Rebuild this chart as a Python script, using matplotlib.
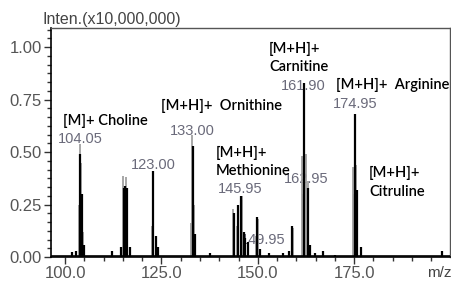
import matplotlib
matplotlib.use("Agg")
import matplotlib.pyplot as plt
from matplotlib.ticker import MultipleLocator, AutoMinorLocator

# spectrum (intensity in units of 1e7)
black_mz = [101.8, 102.9, 104.0, 104.5, 105.0, 112.1, 114.5, 115.2, 115.6, 116.0, 116.9,
            122.8, 123.6, 124.1, 133.1, 133.7, 137.6, 143.9, 144.9, 145.7, 146.3, 146.8,
            147.4, 149.9, 150.6, 153.0, 156.5, 158.0, 158.8, 162.1, 162.9, 163.6, 164.9,
            167.0, 170.0, 175.1, 175.7, 176.8, 197.8]
black_int = [0.025, 0.03, 0.49, 0.30, 0.06, 0.03, 0.05, 0.33, 0.34, 0.33, 0.05,
             0.41, 0.10, 0.05, 0.53, 0.11, 0.02, 0.21, 0.25, 0.29, 0.12, 0.09,
             0.07, 0.19, 0.04, 0.02, 0.02, 0.03, 0.15, 0.83, 0.33, 0.06, 0.02,
             0.03, 0.01, 0.68, 0.32, 0.05, 0.03]
gray_mz = [103.5, 103.8, 104.2, 104.7, 114.9, 115.4, 115.9, 122.6, 122.9, 132.7, 133.0,
           133.4, 143.6, 144.6, 145.8, 146.0, 149.6, 150.1, 159.0, 161.5, 161.8, 162.4,
           163.1, 174.6, 174.9, 175.4]
gray_int = [0.25, 0.54, 0.45, 0.12, 0.385, 0.30, 0.38, 0.15, 0.41, 0.16, 0.58,
            0.25, 0.23, 0.15, 0.29, 0.27, 0.10, 0.18, 0.14, 0.48, 0.30, 0.49,
            0.36, 0.43, 0.30, 0.44]

# peak value labels: text and centre position
peak_text = ["104.05", "123.00", "133.00", "145.95", "149.95", "161.90", "162.95", "174.95"]
peak_x = [103.9, 122.9, 133.0, 145.4, 151.4, 161.7, 162.6, 175.3]
peak_y = [0.56, 0.44, 0.60, 0.325, 0.08, 0.815, 0.37, 0.73]

# compound annotations: one entry per text line, left edge and centre height
comp_text = ["[M]+ Choline", "[M+H]+  Ornithine", "[M+H]+", "Methionine",
             "[M+H]+", "Carnitine", "[M+H]+  Arginine", "[M+H]+", "Citruline"]
comp_x = [99.5, 124.9, 139.0, 139.0, 152.9, 152.9, 170.3, 178.9, 178.9]
comp_y = [0.65, 0.72, 0.495, 0.41, 0.99, 0.905, 0.82, 0.40, 0.31]

fig = plt.figure(figsize=(4.52, 2.81), dpi=100)
ax = fig.add_axes([0.113, 0.085, 0.883, 0.815])

ax.vlines(gray_mz, 0, gray_int, color="#a0a0a0", linewidth=1.3, zorder=2)
ax.vlines(black_mz, 0, black_int, color="black", linewidth=1.6, zorder=3)
ax.axhline(0.005, color="black", linewidth=1.2, zorder=4)

for t, x, y in zip(peak_text, peak_x, peak_y):
    ax.text(x, y, t, ha="center", va="center", fontsize=10.5,
            family="Liberation Sans", color="#6a6a7a", zorder=1)

for t, x, y in zip(comp_text, comp_x, comp_y):
    ax.text(x, y, t, ha="left", va="center", fontsize=10.5,
            family="Lato", fontweight="semibold", color="black", zorder=5)

ax.set_xlim(96.37, 199.9)
ax.set_ylim(0, 1.09)
ax.xaxis.set_major_locator(MultipleLocator(25))
ax.xaxis.set_minor_locator(MultipleLocator(5))
ax.yaxis.set_major_locator(MultipleLocator(0.25))
ax.yaxis.set_minor_locator(AutoMinorLocator(6))
ax.set_xticklabels([f"{v:.1f}" for v in ax.get_xticks()])
ax.set_yticklabels([f"{v:.2f}" for v in ax.get_yticks()])
ax.tick_params(axis="both", which="major", length=5, width=1.0, color="#333333",
               labelsize=12, labelcolor="#555555", pad=1.5)
ax.tick_params(axis="both", which="minor", length=3, width=1.0, color="#333333")
for lab in ax.get_xticklabels() + ax.get_yticklabels():
    lab.set_family("Liberation Sans")

for side in ["left", "bottom"]:
    ax.spines[side].set_color("black")
    ax.spines[side].set_linewidth(1.2)
for side in ["top", "right"]:
    ax.spines[side].set_color("#555555")
    ax.spines[side].set_linewidth(1.0)

fig.text(0.093, 0.929, "Inten.(x10,000,000)", fontsize=11.5, family="Liberation Sans",
         color="#444444", ha="left", va="center")
fig.text(0.998, 0.005, "m/z", fontsize=11, family="Liberation Sans",
         color="#444444", ha="right", va="bottom")

fig.savefig("out.png", dpi=100)
